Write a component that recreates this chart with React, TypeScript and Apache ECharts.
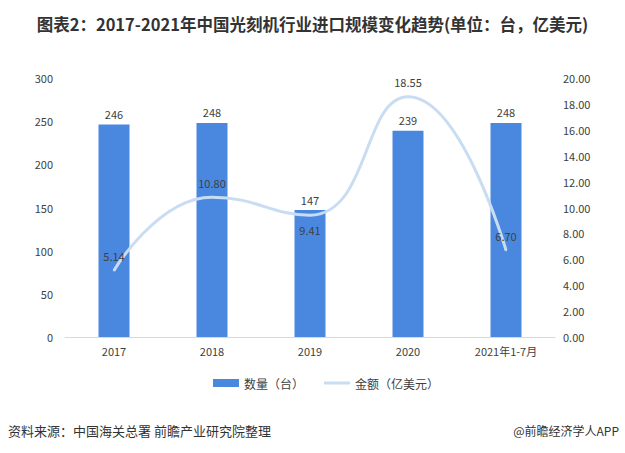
import React, { useEffect, useRef } from "react";
import * as echarts from "echarts";

const categories = ["2017", "2018", "2019", "2020", "2021年1-7月"];
const quantity = [246, 248, 147, 239, 248];
const amount = [5.14, 10.8, 9.41, 18.55, 6.7];
const amountLabelPos = ["top", "top", "bottom", "top", "top"];

const FONT = "'Noto Sans CJK SC', 'Noto Sans', sans-serif";

export default function App() {
  const ref = useRef<HTMLDivElement>(null);
  useEffect(() => {
    if (!ref.current) return;
    const chart = echarts.init(ref.current, null, { renderer: "svg" });
    chart.setOption({
      animation: false,
      backgroundColor: "#ffffff",
      textStyle: { fontFamily: FONT },
      title: {
        text: "图表2：2017-2021年中国光刻机行业进口规模变化趋势(单位：台，亿美元)",
        left: "center",
        top: 11,
        textStyle: { fontSize: 16.5, fontWeight: "bold", color: "#333333", fontFamily: FONT },
      },
      graphic: [
        {
          type: "text",
          left: 8,
          top: 424,
          style: { text: "资料来源：中国海关总署 前瞻产业研究院整理", fontSize: 13, fill: "#333333", fontFamily: FONT },
        },
        {
          type: "text",
          right: 6,
          top: 424,
          style: { text: "@前瞻经济学人APP", fontSize: 12, fill: "#333333", fontFamily: FONT },
        },
      ],
      legend: {
        top: 372,
        left: 208,
        itemGap: 20,
        itemWidth: 26,
        itemHeight: 8,
        textStyle: { fontSize: 12, color: "#404040", fontFamily: FONT },
        data: [
          { name: "数量（台）", icon: "rect" },
          {
            name: "金额（亿美元）",
            icon: "path://M0,0 L26,0 L26,3 L0,3 Z",
            itemStyle: { color: "#c9ddf2", opacity: 1 },
          },
        ],
      },
      grid: { left: 65, right: 70, top: 78, bottom: 116 },
      xAxis: {
        type: "category",
        data: categories,
        axisLine: { lineStyle: { color: "#d9d9d9" } },
        axisTick: { show: false },
        axisLabel: { color: "#404040", fontSize: 11, margin: 8 },
      },
      yAxis: [
        {
          type: "value",
          min: 0,
          max: 300,
          interval: 50,
          splitLine: { show: false },
          axisLine: { show: false },
          axisLabel: { color: "#404040", fontSize: 11, margin: 12 },
        },
        {
          type: "value",
          min: 0,
          max: 20,
          interval: 2,
          splitLine: { show: false },
          axisLine: { show: false },
          axisLabel: {
            color: "#404040",
            fontSize: 11,
            margin: 8,
            formatter: (v: number) => v.toFixed(2),
          },
        },
      ],
      series: [
        {
          name: "数量（台）",
          type: "bar",
          data: quantity,
          barWidth: 31,
          itemStyle: { color: "#4a88e0" },
          label: { show: true, position: "top", color: "#404040", fontSize: 11, distance: 5 },
        },
        {
          name: "金额（亿美元）",
          type: "line",
          yAxisIndex: 1,
          smooth: 0.5,
          symbol: "circle",
          symbolSize: 2,
          showSymbol: true,
          data: amount.map((v, i) => ({
            value: v,
            label: { position: amountLabelPos[i] },
          })),
          lineStyle: { color: "#c9ddf2", width: 3 },
          itemStyle: { color: "#c9ddf2" },
          label: {
            show: true,
            color: "#404040",
            fontSize: 11,
            distance: 8,
            formatter: (p: any) => Number(p.value).toFixed(2),
          },
        },
      ],
    });
    return () => chart.dispose();
  }, []);
  return <div ref={ref} style={{ position: "fixed", left: 0, top: 0, width: 625, height: 453 }} />;
}
